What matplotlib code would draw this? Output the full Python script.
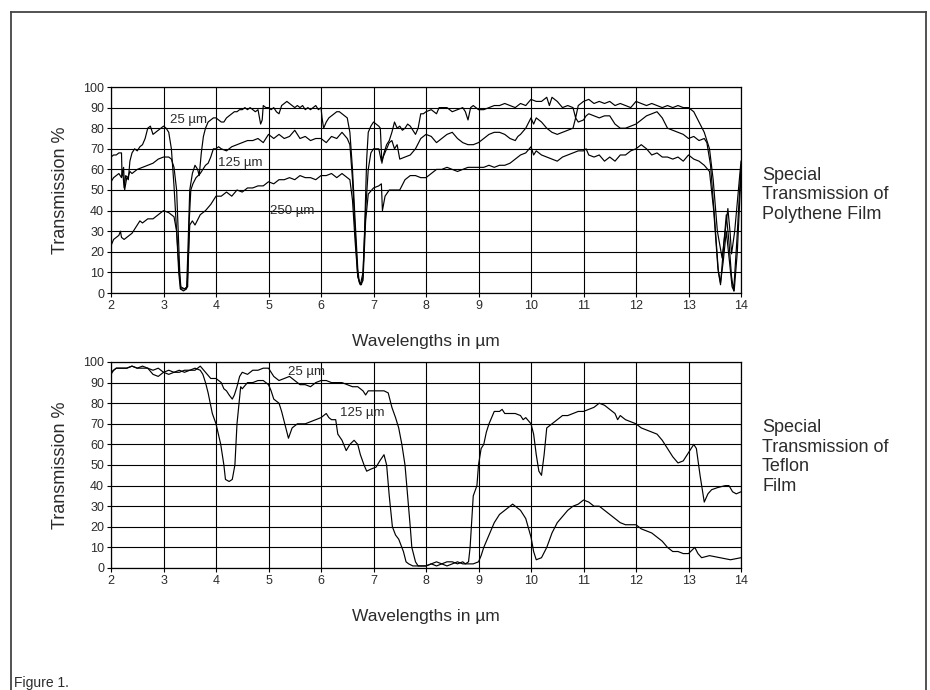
import numpy as np
import matplotlib
matplotlib.use("Agg")
import matplotlib.pyplot as plt
from matplotlib.lines import Line2D

plt.rcParams['font.family'] = ['Liberation Sans', 'DejaVu Sans']
TXT = '#2b2b2b'

# Polythene film, 25 um
poly25_x = [2.00, 2.05, 2.10, 2.15, 2.20, 2.21, 2.24, 2.26, 2.30, 2.33, 2.36, 2.40, 2.45, 2.50, 2.55, 2.60, 2.65, 2.70,
            2.75, 2.80, 2.85, 2.90, 2.95, 3.00, 3.05, 3.10, 3.15, 3.20, 3.25, 3.29, 3.32, 3.38, 3.44, 3.47, 3.50, 3.55,
            3.60, 3.65, 3.68, 3.72, 3.76, 3.80, 3.85, 3.90, 3.95, 4.00, 4.05, 4.10, 4.15, 4.20, 4.25, 4.30, 4.35, 4.40,
            4.45, 4.50, 4.55, 4.60, 4.65, 4.70, 4.75, 4.80, 4.85, 4.88, 4.90, 4.95, 5.00, 5.05, 5.10, 5.15, 5.20, 5.25,
            5.30, 5.35, 5.40, 5.45, 5.50, 5.55, 5.60, 5.65, 5.70, 5.75, 5.80, 5.85, 5.90, 5.95, 6.00, 6.02, 6.05, 6.10,
            6.15, 6.20, 6.25, 6.30, 6.35, 6.40, 6.45, 6.50, 6.55, 6.60, 6.65, 6.70, 6.73, 6.77, 6.80, 6.83, 6.87, 6.90,
            6.95, 7.00, 7.05, 7.10, 7.13, 7.16, 7.20, 7.25, 7.30, 7.35, 7.40, 7.45, 7.50, 7.55, 7.60, 7.65, 7.70, 7.75,
            7.80, 7.85, 7.90, 7.95, 8.00, 8.10, 8.15, 8.20, 8.25, 8.30, 8.40, 8.50, 8.60, 8.70, 8.75, 8.80, 8.85, 8.90,
            9.00, 9.10, 9.20, 9.30, 9.40, 9.50, 9.60, 9.70, 9.80, 9.90, 10.00, 10.10, 10.20, 10.30, 10.35, 10.40, 10.50,
            10.60, 10.70, 10.80, 10.85, 10.90, 11.00, 11.10, 11.20, 11.30, 11.40, 11.50, 11.60, 11.70, 11.80, 11.90,
            12.00, 12.10, 12.20, 12.30, 12.40, 12.50, 12.60, 12.70, 12.80, 12.90, 13.00, 13.10, 13.20, 13.30, 13.40,
            13.47, 13.55, 13.64, 13.70, 13.75, 13.79, 13.82, 13.88, 13.95, 14.00]
poly25_t = [66, 67, 67, 68, 68, 57, 61, 50, 56, 55, 64, 68, 70, 69, 71, 72, 75, 80,
            81, 77, 78, 79, 80, 81, 80, 78, 70, 52, 30, 10, 2, 1, 2, 25, 50, 58,
            62, 60, 57, 68, 76, 80, 83, 84, 85, 85, 84, 83, 83, 85, 86, 87, 88, 88,
            89, 89, 90, 89, 90, 89, 88, 89, 82, 84, 91, 90, 90, 89, 90, 88, 87, 91,
            92, 93, 92, 91, 90, 91, 90, 91, 89, 90, 89, 90, 91, 89, 90, 85, 80, 83,
            85, 86, 87, 88, 88, 87, 86, 85, 78, 60, 35, 12, 5, 4, 8, 30, 65, 78,
            81, 83, 82, 81, 80, 63, 68, 72, 74, 78, 83, 80, 81, 79, 80, 82, 81, 79,
            77, 80, 87, 87, 88, 89, 88, 87, 90, 90, 90, 88, 89, 90, 88, 84, 90, 91,
            89, 89, 90, 91, 91, 92, 91, 90, 92, 91, 94, 93, 93, 95, 91, 95, 93,
            90, 91, 90, 85, 91, 93, 94, 92, 93, 92, 93, 91, 92, 91, 90,
            93, 92, 91, 92, 91, 90, 91, 90, 91, 90, 90, 88, 83, 78, 70,
            55, 30, 17, 30, 41, 30, 19, 30, 50, 64]

# Polythene film, 125 um
poly125_x = [2.00, 2.05, 2.10, 2.15, 2.20, 2.22, 2.25, 2.28, 2.32, 2.36, 2.40, 2.50, 2.60, 2.70, 2.80, 2.90, 3.00,
             3.10, 3.15, 3.20, 3.25, 3.28, 3.31, 3.33, 3.40, 3.46, 3.49, 3.52, 3.56, 3.62, 3.70, 3.75, 3.80, 3.85,
             3.90, 3.95, 4.00, 4.05, 4.10, 4.20, 4.30, 4.40, 4.50, 4.60, 4.70, 4.80, 4.90, 5.00, 5.10, 5.20, 5.30,
             5.40, 5.50, 5.60, 5.70, 5.80, 5.90, 6.00, 6.10, 6.20, 6.30, 6.40, 6.50, 6.55, 6.60, 6.65, 6.70, 6.75,
             6.80, 6.85, 6.90, 6.95, 7.00, 7.10, 7.15, 7.20, 7.30, 7.35, 7.40, 7.45, 7.50, 7.60, 7.70, 7.80, 7.90,
             8.00, 8.10, 8.20, 8.30, 8.40, 8.50, 8.60, 8.70, 8.80, 8.90, 9.00, 9.10, 9.20, 9.30, 9.40, 9.50, 9.60,
             9.70, 9.75, 9.80, 9.90, 10.00, 10.05, 10.10, 10.20, 10.30, 10.40, 10.50, 10.60, 10.70, 10.80, 10.85,
             10.90, 11.00, 11.05, 11.10, 11.20, 11.30, 11.40, 11.50, 11.60, 11.70, 11.80, 11.90, 12.00, 12.10, 12.20,
             12.30, 12.40, 12.50, 12.60, 12.70, 12.80, 12.90, 13.00, 13.10, 13.20, 13.30, 13.35, 13.42, 13.50, 13.57,
             13.61, 13.66, 13.72, 13.77, 13.82, 13.86, 13.92, 14.00]
poly125_t = [54, 56, 57, 58, 56, 60, 51, 57, 56, 59, 58, 60, 61, 62, 63, 65, 66,
             66, 65, 61, 50, 30, 10, 3, 2, 3, 35, 50, 53, 56, 58, 60, 62, 63,
             66, 70, 70, 71, 70, 69, 71, 72, 73, 74, 74, 75, 73, 77, 75, 77, 75,
             76, 79, 75, 76, 74, 75, 75, 73, 76, 75, 78, 75, 72, 55, 30, 8, 4,
             10, 40, 60, 68, 70, 70, 64, 67, 73, 74, 70, 72, 65, 66, 67, 70, 75,
             77, 76, 73, 75, 77, 78, 75, 73, 72, 72, 73, 75, 77, 78, 78, 77, 75,
             74, 76, 77, 80, 85, 82, 85, 83, 80, 78, 77, 78, 79, 80, 85,
             83, 84, 86, 87, 86, 85, 86, 86, 82, 80, 80, 81, 82, 84, 86,
             87, 88, 85, 80, 79, 78, 77, 75, 76, 74, 75, 73, 62, 35, 10,
             4, 20, 38, 25, 8, 1, 25, 62]

# Polythene film, 250 um
poly250_x = [2.00, 2.05, 2.10, 2.15, 2.18, 2.20, 2.25, 2.30, 2.40, 2.50, 2.55, 2.60, 2.70, 2.80, 2.90, 3.00, 3.10,
             3.20, 3.25, 3.30, 3.33, 3.40, 3.45, 3.48, 3.50, 3.55, 3.60, 3.70, 3.80, 3.90, 4.00, 4.10, 4.20, 4.30,
             4.40, 4.50, 4.60, 4.70, 4.80, 4.90, 5.00, 5.10, 5.20, 5.30, 5.40, 5.50, 5.60, 5.70, 5.80, 5.90, 6.00,
             6.10, 6.20, 6.30, 6.40, 6.50, 6.55, 6.60, 6.65, 6.70, 6.75, 6.80, 6.85, 6.90, 7.00, 7.10, 7.15, 7.17,
             7.22, 7.30, 7.40, 7.50, 7.60, 7.70, 7.80, 7.90, 8.00, 8.10, 8.20, 8.30, 8.40, 8.50, 8.60, 8.70, 8.80,
             8.90, 9.00, 9.10, 9.20, 9.30, 9.40, 9.50, 9.60, 9.70, 9.80, 9.90, 10.00, 10.05, 10.10, 10.20, 10.30,
             10.40, 10.50, 10.60, 10.70, 10.80, 10.90, 11.00, 11.05, 11.10, 11.20, 11.30, 11.40, 11.50, 11.60, 11.70,
             11.80, 11.90, 12.00, 12.10, 12.20, 12.30, 12.40, 12.50, 12.60, 12.70, 12.80, 12.90, 13.00, 13.10, 13.20,
             13.30, 13.40, 13.48, 13.56, 13.61, 13.66, 13.72, 13.78, 13.83, 13.87, 13.93, 14.00]
poly250_t = [23, 26, 27, 28, 30, 27, 26, 27, 29, 33, 35, 34, 36, 36, 38, 40, 39,
             37, 30, 10, 2, 2, 3, 20, 33, 35, 33, 38, 40, 43, 47, 47, 49, 47,
             50, 49, 51, 51, 52, 52, 54, 53, 55, 55, 56, 55, 57, 56, 56, 55, 57,
             57, 58, 56, 58, 56, 55, 45, 25, 8, 4, 6, 35, 48, 51, 52, 53, 40,
             47, 50, 50, 50, 55, 57, 57, 56, 56, 58, 60, 60, 61, 60, 59, 60, 61,
             61, 61, 61, 62, 61, 62, 62, 63, 65, 67, 68, 71, 67, 69, 67, 66,
             65, 64, 66, 67, 68, 69, 69, 70, 67, 66, 67, 64, 66, 64, 67,
             67, 69, 70, 72, 70, 67, 68, 66, 66, 65, 66, 64, 67, 65, 64,
             62, 59, 40, 12, 5, 15, 30, 15, 3, 1, 20, 58]

# Teflon film, 25 um
tef25_x = [2.00, 2.05, 2.10, 2.20, 2.30, 2.40, 2.50, 2.60, 2.70, 2.80, 2.90, 3.00, 3.10, 3.20, 3.30, 3.40, 3.50,
           3.60, 3.70, 3.80, 3.90, 4.00, 4.10, 4.15, 4.20, 4.25, 4.31, 4.35, 4.40, 4.45, 4.50, 4.60, 4.70, 4.80,
           4.90, 5.00, 5.05, 5.10, 5.20, 5.30, 5.40, 5.50, 5.60, 5.70, 5.80, 5.90, 6.00, 6.10, 6.20, 6.30, 6.40,
           6.50, 6.60, 6.70, 6.80, 6.85, 6.90, 7.00, 7.10, 7.20, 7.28, 7.35, 7.42, 7.48, 7.54, 7.60, 7.65, 7.70,
           7.73, 7.80, 7.85, 7.90, 8.00, 8.10, 8.20, 8.30, 8.40, 8.50, 8.60, 8.70, 8.75, 8.81, 8.84, 8.90, 8.97,
           9.00, 9.05, 9.10, 9.15, 9.20, 9.25, 9.30, 9.40, 9.45, 9.50, 9.60, 9.70, 9.80, 9.85, 9.90, 10.00, 10.05,
           10.10, 10.15, 10.20, 10.25, 10.30, 10.40, 10.50, 10.60, 10.70, 10.80, 10.90, 11.00, 11.10, 11.20, 11.30,
           11.40, 11.50, 11.60, 11.65, 11.70, 11.80, 11.90, 12.00, 12.10, 12.20, 12.30, 12.40, 12.50, 12.60, 12.70,
           12.80, 12.90, 13.00, 13.10, 13.15, 13.22, 13.30, 13.37, 13.44, 13.55, 13.70, 13.77, 13.84, 13.91, 14.00]
tef25_t = [94, 96, 97, 97, 97, 98, 97, 98, 97, 96, 97, 95, 96, 95, 96, 95, 96,
           96, 98, 95, 92, 92, 90, 87, 86, 84, 82, 84, 88, 93, 95, 94, 96, 96,
           97, 97, 95, 93, 91, 92, 93, 91, 89, 89, 88, 90, 91, 91, 90, 90, 90,
           89, 88, 88, 86, 84, 86, 86, 86, 86, 85, 78, 73, 68, 60, 50, 35, 20,
           10, 3, 1, 1, 1, 2, 3, 2, 3, 3, 2, 3, 2, 3, 10, 35, 40,
           50, 58, 60, 66, 70, 73, 76, 76, 77, 75, 75, 75, 74, 72, 73, 70, 65,
           55, 47, 45, 55, 68, 70, 72, 74, 74, 75, 76, 76, 77, 78, 80,
           79, 77, 75, 72, 74, 72, 71, 70, 68, 67, 66, 65, 62, 58, 54,
           51, 52, 56, 60, 58, 45, 32, 36, 38, 39, 40, 40, 37, 36, 37]

# Teflon film, 125 um
tef125_x = [2.00, 2.10, 2.20, 2.30, 2.40, 2.50, 2.60, 2.70, 2.80, 2.90, 3.00, 3.10, 3.20, 3.30, 3.40, 3.50, 3.60,
            3.70, 3.75, 3.80, 3.85, 3.93, 4.00, 4.09, 4.15, 4.18, 4.25, 4.31, 4.36, 4.40, 4.47, 4.50, 4.60, 4.70,
            4.80, 4.90, 5.00, 5.05, 5.10, 5.20, 5.25, 5.30, 5.38, 5.45, 5.55, 5.70, 5.80, 5.90, 6.00, 6.10, 6.15,
            6.20, 6.28, 6.32, 6.40, 6.48, 6.55, 6.63, 6.70, 6.75, 6.82, 6.87, 6.95, 7.05, 7.12, 7.20, 7.25, 7.30,
            7.36, 7.42, 7.48, 7.57, 7.62, 7.67, 7.75, 7.85, 8.00, 8.10, 8.20, 8.30, 8.40, 8.50, 8.60, 8.70, 8.80,
            8.90, 9.00, 9.05, 9.10, 9.20, 9.30, 9.40, 9.50, 9.60, 9.65, 9.70, 9.80, 9.90, 10.00, 10.05, 10.10, 10.20,
            10.30, 10.40, 10.50, 10.60, 10.70, 10.80, 10.90, 11.00, 11.10, 11.20, 11.30, 11.40, 11.50, 11.60, 11.70,
            11.80, 11.90, 12.00, 12.10, 12.20, 12.30, 12.40, 12.50, 12.60, 12.70, 12.80, 12.90, 13.00, 13.12, 13.18,
            13.25, 13.40, 13.60, 13.80, 14.00]
tef125_t = [95, 97, 97, 97, 98, 97, 97, 97, 94, 93, 95, 94, 95, 95, 96, 96, 97,
            96, 94, 90, 85, 75, 70, 60, 50, 43, 42, 43, 50, 70, 88, 87, 90, 90,
            91, 91, 89, 86, 82, 80, 76, 71, 63, 68, 70, 70, 71, 72, 73, 75, 73,
            72, 72, 65, 62, 57, 60, 62, 60, 55, 50, 47, 48, 49, 52, 55, 50, 35,
            20, 16, 14, 8, 3, 2, 1, 1, 1, 2, 1, 2, 1, 2, 3, 2, 2,
            2, 3, 6, 10, 16, 22, 26, 28, 30, 31, 30, 28, 24, 15, 8, 4, 5,
            10, 17, 22, 25, 28, 30, 31, 33, 32, 30, 30, 28, 26, 24, 22,
            21, 21, 21, 19, 18, 17, 15, 13, 10, 8, 8, 7, 7, 10, 7,
            5, 6, 5, 4, 5]

x_ticks = list(range(2, 15))
y_ticks = list(range(0, 101, 10))

fig = plt.figure(figsize=(9.3, 6.9), dpi=100)

# open frame (top, left, right)
for xs, ys in [([11 / 930, 11 / 930], [0, 1 - 12 / 690]),
               ([11 / 930, 926 / 930], [1 - 12 / 690, 1 - 12 / 690]),
               ([926 / 930, 926 / 930], [1 - 12 / 690, 0])]:
    fig.add_artist(Line2D(xs, ys, transform=fig.transFigure, color='#444444', lw=1.3))

ax1 = fig.add_axes([111 / 930, 1 - 293 / 690, 630 / 930, 206 / 690])
ax2 = fig.add_axes([111 / 930, 1 - 568 / 690, 630 / 930, 206 / 690])

for ax in (ax1, ax2):
    ax.set_xlim(2, 14)
    ax.set_ylim(0, 100)
    ax.set_xticks(x_ticks)
    ax.set_yticks(y_ticks)
    ax.grid(True, color='black', lw=0.8)
    ax.set_axisbelow(True)
    ax.tick_params(length=3, width=0.8, labelsize=9, labelcolor=TXT, pad=2)
    for s in ax.spines.values():
        s.set_linewidth(0.9)
    ax.set_ylabel('Transmission %', fontsize=13, color=TXT, labelpad=10)
    ax.set_xlabel('Wavelengths in µm', fontsize=12.5, color=TXT, labelpad=16)

ax1.plot(poly25_x, poly25_t, color='black', lw=0.85)
ax1.plot(poly125_x, poly125_t, color='black', lw=0.85)
ax1.plot(poly250_x, poly250_t, color='black', lw=0.85)
ax1.text(3.12, 84, '25 µm', fontsize=9.5, color=TXT, va='center')
ax1.text(4.04, 63, '125 µm', fontsize=9.5, color=TXT, va='center')
ax1.text(5.03, 40, '250 µm', fontsize=9.5, color=TXT, va='center')

ax2.plot(tef25_x, tef25_t, color='black', lw=0.85)
ax2.plot(tef125_x, tef125_t, color='black', lw=0.85)
ax2.text(5.37, 95, '25 µm', fontsize=9.5, color=TXT, va='center')
ax2.text(6.36, 75, '125 µm', fontsize=9.5, color=TXT, va='center')

fig.text(762 / 930, 1 - 195 / 690, 'Special\nTransmission of\nPolythene Film', fontsize=13,
         color=TXT, va='center', ha='left', linespacing=1.2)
fig.text(762 / 930, 1 - 457 / 690, 'Special\nTransmission of\nTeflon\nFilm', fontsize=13,
         color=TXT, va='center', ha='left', linespacing=1.2)
fig.text(14 / 930, 1 - 683 / 690, 'Figure 1.', fontsize=10, color=TXT, va='center', ha='left')

fig.savefig('out.png', dpi=100)
